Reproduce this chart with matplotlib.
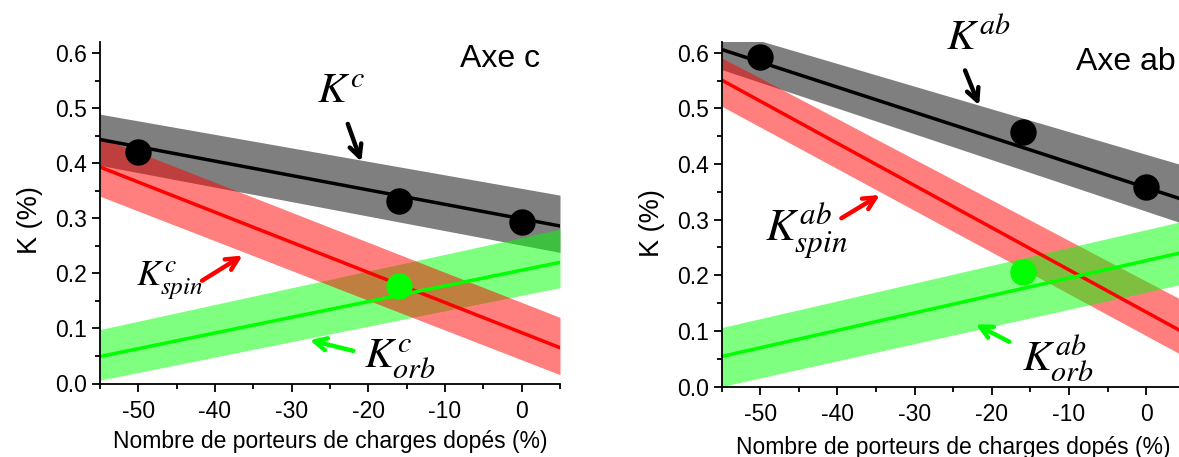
import matplotlib
matplotlib.use('Agg')
import matplotlib.pyplot as plt
from matplotlib.ticker import MultipleLocator

plt.rcParams['font.family'] = ['Liberation Sans', 'DejaVu Sans']
plt.rcParams['mathtext.fontset'] = 'stix'
plt.rcParams['axes.unicode_minus'] = False

# x de bord de l'axe (debut / fin des droites)
x_fit = [-55, 5]
x_pts = [-50, -16, 0]

# Axe c
c_tot_pts = [0.42, 0.331, 0.293]
c_orb_pt_x = [-16]
c_orb_pt_y = [0.177]
c_tot_line = [0.443, 0.286]
c_tot_hi = [0.489, 0.342]
c_tot_lo = [0.396, 0.238]
c_spin_line = [0.393, 0.065]
c_spin_hi = [0.447, 0.12]
c_spin_lo = [0.34, 0.016]
c_orb_line = [0.049, 0.22]
c_orb_hi = [0.098, 0.28]
c_orb_lo = [0.006, 0.174]

# Axe ab
ab_tot_pts = [0.592, 0.457, 0.359]
ab_orb_pt_x = [-16]
ab_orb_pt_y = [0.206]
ab_tot_line = [0.606, 0.335]
ab_tot_hi = [0.642, 0.397]
ab_tot_lo = [0.57, 0.292]
ab_spin_line = [0.551, 0.096]
ab_spin_hi = [0.591, 0.153]
ab_spin_lo = [0.504, 0.054]
ab_orb_line = [0.054, 0.242]
ab_orb_hi = [0.106, 0.298]
ab_orb_lo = [0.0, 0.185]

W, H = 1179, 457
fig = plt.figure(figsize=(W / 100, H / 100), dpi=100)
ax1 = fig.add_axes([100 / W, 73.5 / H, 460 / W, 341.5 / H])
ax2 = fig.add_axes([721.7 / W, 70.5 / H, 463 / W, 344.8 / H])


def style(ax, ylab_x, ylab_y, xlab_y):
    ax.set_xlim(-55, 5)
    ax.set_ylim(0, 0.62)
    for s in ['top', 'right']:
        ax.spines[s].set_visible(False)
    for s in ['left', 'bottom']:
        ax.spines[s].set_linewidth(1.3)
    ax.xaxis.set_major_locator(MultipleLocator(10))
    ax.xaxis.set_minor_locator(MultipleLocator(5))
    ax.yaxis.set_minor_locator(MultipleLocator(0.05))
    ax.tick_params(which='major', direction='out', length=6, width=1.3, labelsize=16.5)
    ax.tick_params(axis='x', which='major', pad=6)
    ax.tick_params(which='minor', direction='out', length=3.5, width=1.3)
    ax.set_yticks([0, 0.1, 0.2, 0.3, 0.4, 0.5, 0.6])
    ax.set_yticklabels(['0.0', '0.1', '0.2', '0.3', '0.4', '0.5', '0.6'])
    ax.set_xlabel('Nombre de porteurs de charges dopés (%)', fontsize=16.5)
    ax.set_ylabel('K (%)', fontsize=19.5)
    ax.yaxis.set_label_coords(ylab_x, ylab_y)
    ax.xaxis.set_label_coords(0.5, xlab_y)


# ---- Axe c ----
ax1.fill_between(x_fit, c_tot_lo, c_tot_hi, color='black', alpha=0.5, lw=0)
ax1.fill_between(x_fit, c_orb_lo, c_orb_hi, color='#00ff00', alpha=0.5, lw=0)
ax1.fill_between(x_fit, c_spin_lo, c_spin_hi, color='red', alpha=0.5, lw=0)
ax1.plot(x_fit, c_tot_line, color='black', lw=2.5)
ax1.plot(x_fit, c_spin_line, color='red', lw=2.5)
ax1.plot(x_fit, c_orb_line, color='#00ff00', lw=2.5)
ax1.plot(x_pts, c_tot_pts, 'o', color='black', ms=18, ls='none')
ax1.plot(c_orb_pt_x, c_orb_pt_y, 'o', color='#00ff00', ms=18, ls='none')
style(ax1, -0.124, 0.479, -0.136)

ax1.text(-8.1, 0.574, 'Axe c', fontsize=23, ha='left', va='baseline')
ax1.text(-23.6, 0.53, r'$K^{c}$', fontsize=31, ha='center', va='center')
ax1.annotate('', xy=(-20.8, 0.398), xytext=(-22.8, 0.476),
             arrowprops=dict(arrowstyle='->', color='black', lw=3.2, mutation_scale=22))
ax1.text(-45.9, 0.187, r'$K^{c}_{spin}$', fontsize=26, ha='center', va='center')
ax1.annotate('', xy=(-36.1, 0.235), xytext=(-42, 0.184),
             arrowprops=dict(arrowstyle='->', color='red', lw=3.2, mutation_scale=22))
ax1.text(-15.9, 0.045, r'$K^{c}_{orb}$', fontsize=31, ha='center', va='center')
ax1.annotate('', xy=(-28, 0.08), xytext=(-21.6, 0.058),
             arrowprops=dict(arrowstyle='->', color='#00ff00', lw=3.2, mutation_scale=22))

# ---- Axe ab ----
ax2.fill_between(x_fit, ab_tot_lo, ab_tot_hi, color='black', alpha=0.5, lw=0)
ax2.fill_between(x_fit, ab_spin_lo, ab_spin_hi, color='red', alpha=0.5, lw=0)
ax2.fill_between(x_fit, ab_orb_lo, ab_orb_hi, color='#00ff00', alpha=0.5, lw=0)
ax2.plot(x_fit, ab_tot_line, color='black', lw=2.5)
ax2.plot(x_fit, ab_spin_line, color='red', lw=2.5)
ax2.plot(x_fit, ab_orb_line, color='#00ff00', lw=2.5)
ax2.plot(x_pts, ab_tot_pts, 'o', color='black', ms=18, ls='none')
ax2.plot(ab_orb_pt_x, ab_orb_pt_y, 'o', color='#00ff00', ms=18, ls='none')
style(ax2, -0.122, 0.474, -0.144)

ax2.text(-9.1, 0.569, 'Axe ab', fontsize=23, ha='left', va='baseline')
ax2.text(-21.8, 0.625, r'$K^{ab}$', fontsize=31, ha='center', va='center')
ax2.annotate('', xy=(-21.5, 0.501), xytext=(-23.6, 0.573),
             arrowprops=dict(arrowstyle='->', color='black', lw=3.2, mutation_scale=22))
ax2.text(-44, 0.28, r'$K^{ab}_{spin}$', fontsize=32, ha='center', va='center')
ax2.annotate('', xy=(-34.2, 0.347), xytext=(-39.8, 0.3),
             arrowprops=dict(arrowstyle='->', color='red', lw=3.2, mutation_scale=22))
ax2.text(-11.5, 0.05, r'$K^{ab}_{orb}$', fontsize=31, ha='center', va='center')
ax2.annotate('', xy=(-22.4, 0.114), xytext=(-17.4, 0.078),
             arrowprops=dict(arrowstyle='->', color='#00ff00', lw=3.2, mutation_scale=22))

fig.savefig('out.png', dpi=100)
